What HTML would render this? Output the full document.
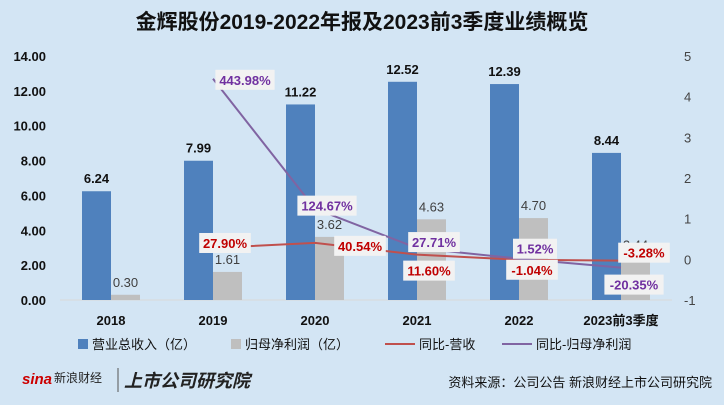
<!DOCTYPE html>
<html><head><meta charset="utf-8"><style>
body{margin:0;background:#d3e5f4;font-family:"Liberation Sans","Noto Sans CJK SC",sans-serif;}
svg{display:block}
</style></head><body>
<svg width="724" height="405" viewBox="0 0 724 405" id="c">
<rect width="724" height="405" fill="#d3e5f4"/>
<text x="362" y="29" text-anchor="middle" font-size="21" font-weight="bold" fill="#111" font-family="Liberation Sans,Noto Sans CJK SC,sans-serif">金辉股份2019-2022年报及2023前3季度业绩概览</text>
<g id="plot"></g>
<g font-size="13" fill="#111" font-family="Liberation Sans,Noto Sans CJK SC,sans-serif">
<rect x="78" y="339" width="10" height="10" fill="#4f81bd"/>
<text x="92" y="349">营业总收入（亿）</text>
<rect x="231" y="339" width="10" height="10" fill="#bfbfbf"/>
<text x="245" y="349">归母净利润（亿）</text>
<line x1="385" y1="344" x2="415" y2="344" stroke="#c0504d" stroke-width="2"/>
<text x="419" y="349">同比-营收</text>
<line x1="502" y1="344" x2="532" y2="344" stroke="#8064a2" stroke-width="2"/>
<text x="536" y="349">同比-归母净利润</text>
</g>
<g font-family="Liberation Sans,Noto Sans CJK SC,sans-serif">
<text x="22" y="384" font-size="15" font-weight="bold" fill="#c00" font-style="italic">sina</text>
<text x="54" y="382" font-size="12" fill="#222">新浪财经</text>
<line x1="118" y1="368" x2="118" y2="392" stroke="#555"/>
<text x="124" y="387" font-size="18" font-weight="bold" fill="#222" font-style="italic">上市公司研究院</text>
</g>
<text x="712" y="387" text-anchor="end" font-size="13" fill="#111" font-family="Liberation Sans,Noto Sans CJK SC,sans-serif">资料来源：公司公告 新浪财经上市公司研究院</text>
</svg>
<script>
const categories=["2018","2019","2020","2021","2022","2023前3季度"];
const revenue=[6.24,7.99,11.22,12.52,12.39,8.44];
const profit=[0.30,1.61,3.62,4.63,4.70,2.44];
const revenueYoy=[null,27.90,40.54,11.60,-1.04,-3.28];
const profitYoy=[null,443.98,124.67,27.71,1.52,-20.35];
const leftTicks=[0,2,4,6,8,10,12,14];
const rightTicks=[-1,0,1,2,3,4,5];
// label offsets (layout, not data)
const redOff=[null,[12,-5],[45,3],[12,16],[13,10],[23,-8]];
const purOff=[null,[32,1],[12,-3],[17,-6],[16,-10],[13,17]];

const NS="http://www.w3.org/2000/svg";
const g=document.getElementById('plot');
const F='Liberation Sans,Noto Sans CJK SC,sans-serif';
const x0=60,step=102,yBase=300,yTop=56;
const yL=v=>yBase-(v/14)*(yBase-yTop);
const yR=v=>yBase-((v+1)/6)*(yBase-yTop);
const xc=i=>x0+step*(i+0.5);
function el(t,a,p){const e=document.createElementNS(NS,t);for(const k in a)e.setAttribute(k,a[k]);(p||g).appendChild(e);return e;}
function txt(s,a){const e=el('text',Object.assign({'font-family':F},a));e.textContent=s;return e;}

leftTicks.forEach(v=>{const t=txt(v.toFixed(2),{x:46,y:yL(v)+5,'text-anchor':'end','font-size':13,'font-weight':'bold',fill:'#111'});

});
rightTicks.forEach(v=>{const t=txt(String(v),{x:684,y:yR(v)+5,'font-size':13,fill:'#444'});

});
const ax=el('line',{x1:x0,y1:yBase,x2:672,y2:yBase,stroke:'#d9d9d9','stroke-width':1});



categories.forEach((c,i)=>{
  const cx=xc(i);
  const b=el('rect',{x:cx-29,y:yL(revenue[i]),width:29,height:yBase-yL(revenue[i]),fill:'#4f81bd'});
  
  
  const p=el('rect',{x:cx,y:yL(profit[i]),width:29,height:yBase-yL(profit[i]),fill:'#bfbfbf'});
  
  
  const l1=txt(revenue[i].toFixed(2),{x:cx-14.5,y:yL(revenue[i])-8,'text-anchor':'middle','font-size':13,'font-weight':'bold',fill:'#111'});
  
  
  const l2=txt(profit[i].toFixed(2),{x:cx+14.5,y:yL(profit[i])-8,'text-anchor':'middle','font-size':13,fill:'#404040'});
  
  
  const xl=txt(c,{x:cx,y:325,'text-anchor':'middle','font-size':13,'font-weight':'bold',fill:'#111'});
  
  
});

function series(vals,color,name){
  const pts=[];vals.forEach((v,i)=>{if(v!==null)pts.push([xc(i),yR(v/100)]);});
  const pl=el('polyline',{points:pts.map(p=>p.join(',')).join(' '),fill:'none',stroke:color,'stroke-width':2});
  
  
}
function labels(vals,offs,color,name){
  vals.forEach((v,i)=>{if(v===null)return;
    const cx=xc(i)+offs[i][0],cy=yR(v/100)+offs[i][1];
    const s=v.toFixed(2)+'%';const w=s.length*7.6+6;
    const r=el('rect',{x:cx-w/2,y:cy-10,width:w,height:20,fill:'#f2f2f2'});
    
    
    const t=txt(s,{x:cx,y:cy+5,'text-anchor':'middle','font-size':13,'font-weight':'bold',fill:color});
    
    
  });
}
series(revenueYoy,'#c0504d','revenue-yoy-line');
series(profitYoy,'#8064a2','profit-yoy-line');
labels(revenueYoy,redOff,'#c00000','revenue-yoy-label');
labels(profitYoy,purOff,'#7030a0','profit-yoy-label');
</script>
</body></html>
